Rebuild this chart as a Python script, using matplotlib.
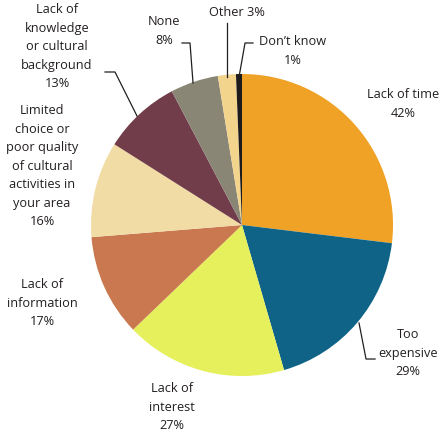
import matplotlib.pyplot as plt

# Reasons for not taking part in cultural activities (% of respondents)
labels = ["Lack of time", "Too\nexpensive", "Lack of\ninterest", "Lack of\ninformation",
          "Limited\nchoice or\npoor quality\nof cultural\nactivities in\nyour area",
          "Lack of\nknowledge\nor cultural\nbackground", "None", "Other", "Don\u2019t know"]
values = [42, 29, 27, 17, 16, 13, 8, 3, 1]
colors = ["#F0A226", "#0E6386", "#E5F05C", "#C9784F", "#F2DCA6",
          "#723D4A", "#8A8676", "#F3D48C", "#1C1A1A"]

plt.rcParams['font.family'] = ['Open Sans', 'DejaVu Sans']
txt = "#231F20"

fig = plt.figure(figsize=(4.42, 4.34), dpi=100)
ax = fig.add_axes([0.2059, 0.1336, 0.6833, 0.6959])
ax.pie(values, colors=colors, startangle=90, counterclock=False, radius=1,
       wedgeprops=dict(linewidth=0))
ax.set_xlim(-1, 1)
ax.set_ylim(-1, 1)

# pixel -> data helpers (center at px (242, 225), radius 151 px)
def d(px, py):
    return ((px - 242) / 151.0, (225 - py) / 151.0)

kw = dict(ha="center", va="center", fontsize=9.2, color=txt, linespacing=1.55,
          clip_on=False)
pos = [(403, 104), (408, 353), (172, 407), (42, 303), (42, 166),
       (57, 47), (164, 31), (237, 13), (293, 51)]
for i, (lab, v) in enumerate(zip(labels, values)):
    if labels[i] == "Other":
        s = f"{lab} {v}%"
    else:
        s = f"{lab}\n{v}%"
    x, y = d(*pos[i])
    ax.text(x, y, s, **kw)

leaders = [
    [(359, 323), (366, 359), (375, 359)],
    [(105, 72), (115, 72), (137, 116)],
    [(182, 43), (190, 43), (193, 83)],
    [(227, 23), (227, 77)],
    [(253, 43), (245, 43), (239, 77)],
]
for pts in leaders:
    xs, ys = zip(*[d(*p) for p in pts])
    ax.plot(xs, ys, color=txt, lw=0.9, clip_on=False)

fig.savefig("out.png", dpi=100)
